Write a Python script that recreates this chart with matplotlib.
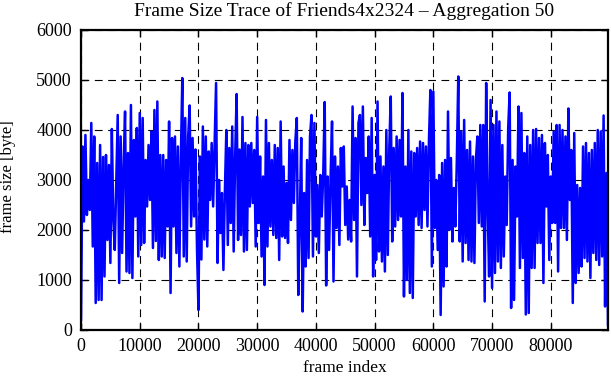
import numpy as np
import matplotlib
matplotlib.use("Agg")
import matplotlib.pyplot as plt

# aggregated frame sizes (bytes), one value every 250 frames
frame_size = [
    200, 3670, 2170, 3900, 2300, 3000, 2400, 4140, 1670, 3870,
    540, 3340, 600, 3700, 600, 3460, 1070, 3500, 1800, 3300,
    1340, 4020, 2200, 1600, 3000, 4300, 940, 3870, 1540, 3270,
    4370, 1170, 3540, 1140, 4500, 1040, 3800, 2270, 4040, 1470,
    4340, 1700, 4240, 1740, 3400, 2470, 3700, 2600, 3970, 1640,
    4400, 1780, 4570, 1400, 3500, 1470, 3500, 1440, 3400, 2070,
    4170, 740, 3840, 2070, 3870, 1540, 3670, 1270, 3400, 5040,
    1470, 4240, 1370, 3870, 4490, 2070, 3840, 2270, 3610, 1640,
    400, 3470, 1410, 4070, 1810, 3870, 1670, 3570, 2600, 3740,
    2470, 3740, 4940, 1340, 3000, 1940, 2740, 1200, 2770, 4000,
    1700, 3640, 2140, 4070, 1570, 3470, 4720, 1800, 3610, 1900,
    4260, 1570, 3740, 1600, 3700, 2470, 3740, 2540, 3600, 1670,
    4260, 2140, 3470, 1470, 3070, 900, 4200, 1670, 3740, 2070,
    3400, 1900, 3700, 1840, 3640, 1400, 4170, 1870, 3270, 1840,
    2940, 1740, 3800, 2200, 3600, 2540, 3770, 4240, 700, 2100,
    3840, 370, 2740, 1270, 3400, 1440, 3870, 4300, 1470, 4140,
    1870, 2900, 1540, 3100, 2270, 3100, 4560, 890, 3070, 1600,
    3040, 4170, 970, 3470, 2040, 3270, 1700, 3640, 2870, 3670,
    2100, 2870, 1810, 2600, 1770, 4470, 2200, 3840, 1070, 4140,
    4300, 2500, 4470, 2100, 3440, 2740, 3870, 1870, 4240, 1070,
    3100, 1400, 4570, 1570, 3470, 1370, 3270, 1170, 4000, 1500,
    3640, 4670, 1770, 3640, 2070, 3870, 2200, 3800, 2270, 4740,
    670, 3270, 1000, 4000, 740, 3570, 640, 3540, 2270, 3640,
    2100, 3770, 2040, 3740, 2400, 3670, 2070, 3770, 4800, 1270,
    4770, 2040, 3000, 1600, 3100, 300, 3340, 870, 3400, 1270,
    4370, 2000, 3440, 1770, 2840, 2070, 3370, 5070, 1770, 3970,
    1370, 4200, 1740, 3600, 1400, 3770, 1370, 3470, 1340, 3400,
    3870, 2140, 4100, 2070, 4100, 570, 4940, 2470, 1070, 4600,
    840, 4100, 1140, 4370, 1370, 4170, 1240, 3700, 1470, 3070,
    2100, 4040, 4750, 440, 3400, 600, 3270, 2270, 4470, 1240,
    4340, 1440, 3540, 310, 3870, 340, 3700, 1240, 4000, 1240,
    4020, 1740, 3840, 1740, 3900, 940, 3740, 2470, 3500, 1400,
    3070, 2140, 3970, 2140, 4100, 1170, 4100, 2040, 4000, 2040,
    3870, 1800, 4430, 2600, 3600, 540, 3940, 940, 2900, 1140,
    2840, 1270, 3670, 1440, 3740, 1370, 3540, 1040, 3600, 1540,
    3740, 1400, 4000, 1300, 3970, 1470, 4290, 470, 3140, 100,
]
frame_step = 250
x_ticks = [0, 10000, 20000, 30000, 40000, 50000, 60000, 70000, 80000]
y_ticks = [0, 1000, 2000, 3000, 4000, 5000, 6000]

frame_index = np.arange(len(frame_size)) * frame_step

plt.rcParams['font.family'] = ['Liberation Serif', 'DejaVu Serif']

fig = plt.figure(figsize=(6.11, 3.80), dpi=100)
ax = fig.add_axes([0.1326, 0.1316, 0.8625, 0.7895])

ax.plot(frame_index, frame_size, color='#0000ff', lw=1.8)

ax.set_xlim(0, frame_index[-1])
ax.set_ylim(0, 6000)
ax.set_xticks(x_ticks)
ax.set_yticks(y_ticks)
ax.grid(True, color='black', linestyle=(0, (7, 5)), linewidth=0.8)
ax.tick_params(direction='in', length=5, width=1, top=True, right=True,
               labelsize=13)
ax.tick_params(axis='y', pad=6.5)
ax.tick_params(axis='x', pad=6)
for s in ax.spines.values():
    s.set_linewidth(1.6)

ax.set_xlabel('frame index', fontsize=12.5)
ax.set_ylabel('frame size [byte]', fontsize=12)
ax.xaxis.set_label_coords(0.5, -0.1)
ax.yaxis.set_label_coords(-0.123, 0.51)
ax.set_title('Frame Size Trace of Friends4x2324 \u2013 Aggregation 50',
             fontsize=14, pad=10)

fig.savefig('out.png', dpi=100)
